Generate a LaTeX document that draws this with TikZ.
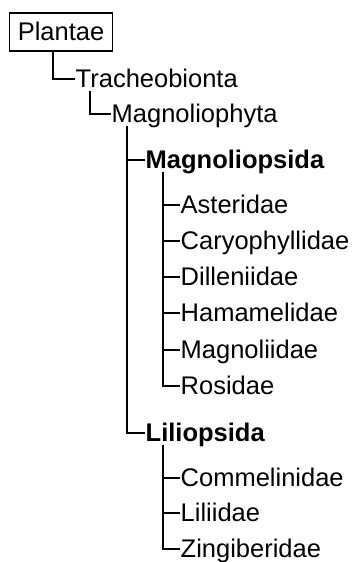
\documentclass[tikz,border=0pt]{standalone}
\usepackage{fontspec}
\setmainfont{Liberation Sans}
\usetikzlibrary{positioning}

\tikzset{
  taxon/.style={anchor=west, inner sep=0.5pt, font=\fontsize{25.5}{28}\selectfont,
                text height=19pt, text depth=3pt},
  boldtaxon/.style={taxon, font=\fontsize{25.5}{28}\selectfont\bfseries},
  rootbox/.style={draw, line width=1.2pt, inner xsep=8.5pt, inner ysep=8pt,
                  font=\fontsize{25.5}{28}\selectfont, text height=19pt, text depth=3pt},
  link/.style={line width=1.2pt}
}

\begin{document}
\begin{tikzpicture}[x=1pt, y=-1pt]
\useasboundingbox (0,0) rectangle (353,562);

% Kingdom
\node[rootbox] (plantae) at (61,32) {Plantae};

% Subkingdom and division
\node[taxon] (trach) at (75,79) {Tracheobionta};
\node[taxon] (magph) at (111,114) {Magnoliophyta};
\draw[link] ([xshift=-8pt]plantae.south) |- (trach.west);
\draw[link] ([xshift=15pt]trach.south west) |- (magph.west);

% Classes
\node[boldtaxon] (magnoliopsida) at (145,160) {Magnoliopsida};
\node[boldtaxon] (liliopsida) at (145,433) {Liliopsida};
\draw[link] ([xshift=16pt]magph.south west) |- (magnoliopsida.west);
\draw[link] ([xshift=16pt]magph.south west) |- (liliopsida.west);

% Subclasses of Magnoliopsida
\foreach \nm/\yy in {Asteridae/205, Caryophyllidae/241, Dilleniidae/277,
                     Hamamelidae/313, Magnoliidae/350, Rosidae/386}{
  \node[taxon] (\nm) at (180,\yy) {\nm};
  \draw[link] ([xshift=18pt]magnoliopsida.south west) |- (\nm.west);
}

% Subclasses of Liliopsida
\foreach \nm/\yy in {Commelinidae/478, Liliidae/513, Zingiberidae/549}{
  \node[taxon] (\nm) at (180,\yy) {\nm};
  \draw[link] ([xshift=18pt]liliopsida.south west) |- (\nm.west);
}

\end{tikzpicture}
\end{document}
